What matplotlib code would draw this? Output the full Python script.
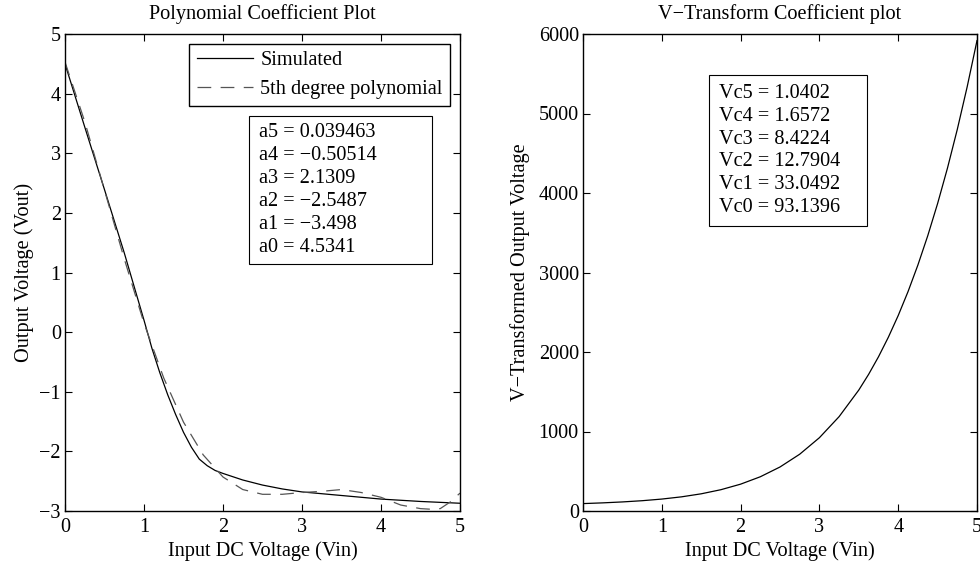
import numpy as np
import matplotlib
matplotlib.use("Agg")
import matplotlib.pyplot as plt
from matplotlib.patches import Rectangle

# ---- data ----
sim_x = [0.0, 0.25, 0.5, 0.75, 1.0, 1.1, 1.2, 1.3, 1.4, 1.5, 1.6, 1.7, 1.8, 1.9,
         2.0, 2.25, 2.5, 2.75, 3.0, 3.5, 4.0, 4.5, 5.0]
sim_y = [4.50, 3.44, 2.39, 1.33, 0.20, -0.27, -0.68, -1.05, -1.38, -1.68, -1.93,
         -2.13, -2.24, -2.32, -2.37, -2.48, -2.565, -2.63, -2.68, -2.74, -2.80,
         -2.84, -2.87]

fit_x = [0.0, 0.25, 0.5, 0.75, 1.0, 1.25, 1.5, 1.75, 2.0, 2.25, 2.5, 2.75, 3.0,
         3.25, 3.5, 3.75, 4.0, 4.25, 4.5, 4.625, 4.75, 4.875, 5.0]
fit_y = [4.53, 3.53, 2.38, 1.23, 0.15, -0.77, -1.51, -2.06, -2.43, -2.64, -2.72,
         -2.72, -2.69, -2.67, -2.64, -2.69, -2.77, -2.90, -2.96, -2.97, -2.96,
         -2.85, -2.70]

vt_x = [0.0, 0.25, 0.5, 0.75, 1.0, 1.25, 1.5, 1.75, 2.0, 2.25, 2.5, 2.75, 3.0,
        3.25, 3.5, 3.625, 3.75, 3.875, 4.0, 4.125, 4.25, 4.375, 4.5, 4.625,
        4.75, 4.875, 5.0]
vt_y = [93.1, 102.3, 114.1, 129.4, 150.1, 178.1, 216.2, 267.9, 337.6, 430.6,
        553.6, 714.3, 921.8, 1186.8, 1521.6, 1719.6, 1940.1, 2185.8, 2458.3,
        2760.3, 3094.3, 3462.3, 3867.4, 4312.1, 4800.2, 5334.2, 5917.0]

poly_labels = ["a5 = 0.039463", "a4 = \u22120.50514", "a3 = 2.1309",
               "a2 = \u22122.5487", "a1 = \u22123.498", "a0 = 4.5341"]
vt_labels = ["Vc5 = 1.0402", "Vc4 = 1.6572", "Vc3 = 8.4224",
             "Vc2 = 12.7904", "Vc1 = 33.0492", "Vc0 = 93.1396"]

left_xticks = [0, 1, 2, 3, 4, 5]
left_yticks = [-3, -2, -1, 0, 1, 2, 3, 4, 5]
right_yticks = [0, 1000, 2000, 3000, 4000, 5000, 6000]

FS = 14.6
plt.rcParams['font.family'] = ['Liberation Serif', 'DejaVu Serif']
plt.rcParams['font.size'] = FS
plt.rcParams['axes.unicode_minus'] = True

fig = plt.figure(figsize=(9.8, 5.68), dpi=100)
W, H = 980, 568

def add_ax(x0, x1, y_top, y_bot):
    return fig.add_axes([x0 / W, (H - y_bot) / H, (x1 - x0) / W, (y_bot - y_top) / H])

ax1 = add_ax(65, 460, 34, 511)
ax2 = add_ax(583, 977, 34, 511)

for ax in (ax1, ax2):
    ax.tick_params(direction='in', length=5, width=0.8, top=True, right=True,
                   labelsize=FS)
    ax.tick_params(axis='x', pad=5)
    ax.tick_params(axis='y', pad=3)
    for s in ax.spines.values():
        s.set_linewidth(1.0)

def text_box(ax, x0, x1, y0, y1, tx, ty, lines, ls):
    ax.add_patch(Rectangle((x0, y0), x1 - x0, y1 - y0, transform=ax.transAxes,
                           fc='white', ec='black', lw=0.8, zorder=4))
    ax.text(tx, ty, "\n".join(lines), transform=ax.transAxes, ha='left',
            va='center', fontsize=FS, linespacing=ls, zorder=5)

# left plot
ax1.plot(sim_x, sim_y, color='black', lw=0.9, label='Simulated')
ax1.plot(fit_x, fit_y, color='#555555', lw=0.9, ls=(0, (11, 7.5)),
         label='5th degree polynomial')
ax1.set_xlim(0, 5)
ax1.set_ylim(-3, 5)
ax1.set_xticks(left_xticks)
ax1.set_yticks(left_yticks)
ax1.set_title('Polynomial Coefficient Plot', fontsize=FS, pad=10.5)
ax1.set_xlabel('Input DC Voltage (Vin)', fontsize=FS, labelpad=3)
ax1.set_ylabel('Output Voltage (Vout)', fontsize=FS, labelpad=4)
leg = ax1.legend(loc='upper right', fancybox=False, framealpha=1,
                 edgecolor='black', handlelength=2.8, borderaxespad=0.5,
                 fontsize=FS, borderpad=0.35, labelspacing=0.45,
                 handletextpad=0.35)
leg.get_frame().set_linewidth(1.0)

text_box(ax1, (249 - 65) / 395, (432 - 65) / 395, (511 - 264) / 477,
         (511 - 116) / 477, (259 - 65) / 395, (511 - 190) / 477, poly_labels, 1.29)

# right plot
ax2.plot(vt_x, vt_y, color='black', lw=0.9)
ax2.set_xlim(0, 5)
ax2.set_ylim(0, 6000)
ax2.set_xticks(left_xticks)
ax2.set_yticks(right_yticks)
ax2.set_title('V\u2212Transform Coefficient plot', fontsize=FS, pad=10.5)
ax2.set_xlabel('Input DC Voltage (Vin)', fontsize=FS, labelpad=3)
ax2.set_ylabel('V\u2212Transformed Output Voltage', fontsize=FS, labelpad=6.5)
text_box(ax2, (709 - 583) / 394, (867 - 583) / 394, (511 - 226) / 477,
         (511 - 75) / 477, (719 - 583) / 394, (511 - 150.5) / 477, vt_labels, 1.27)

fig.savefig('out.png', dpi=100)
